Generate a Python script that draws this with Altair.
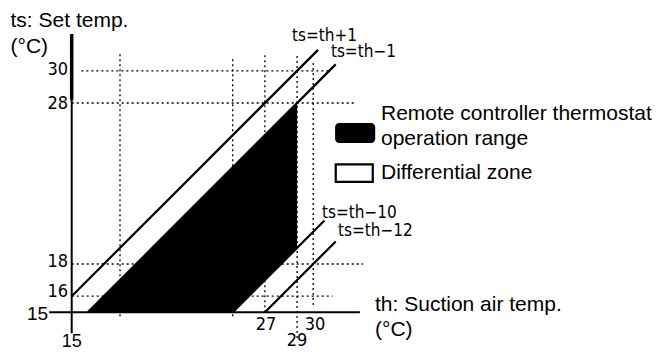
import altair as alt
import pandas as pd

# ---------------- data ----------------
line_labels = ["ts=th+1", "ts=th\u22121", "ts=th\u221210", "ts=th\u221212"]
line_offsets = [1, -1, -10, -12]
line_th_start = [15, 16, 25, 27]
line_th_end = [30.3, 31.4, 30.7, 31.4]

grid_h_ts = [30, 28, 18, 16]
grid_h_th_start = [15.6, 15, 15, 15]
grid_h_th_end = [31.1, 32.7, 33.1, 31.2]

grid_v_th = [18, 25, 27, 29, 30]
grid_v_ts_start = [14.75, 14.75, 15, 13.4, 15.45]
grid_v_ts_end = [31.1, 30.9, 31.1, 31.1, 30.5]

range_th = [16, 25, 29]
range_top = [15, 24, 28]
range_bottom = [15, 15, 19]

y_tick_values = [30, 28, 18, 16]
x_tick_values = [27, 30, 29]

# ---------------- layout ----------------
PX = 16.1
X0 = 15 - 63.7 / PX
Y0 = 15 - 31.7 / PX
W, H = 648, 336
xs = alt.Scale(domain=[X0, X0 + W / PX], nice=False, zero=False)
ys = alt.Scale(domain=[Y0, Y0 + H / PX], nice=False, zero=False)

def X(f="x"):
    return alt.X(f"{f}:Q", scale=xs, axis=None)

def Y(f="y"):
    return alt.Y(f"{f}:Q", scale=ys, axis=None)

DIGIT_FONT = "Liberation Sans Narrow, DejaVu Sans Condensed, sans-serif"
TEXT_FONT = "Liberation Sans, Arial, sans-serif"

# ---------------- tables ----------------
lines_df = pd.DataFrame({
    "label": line_labels,
    "x": line_th_start,
    "x2": line_th_end,
    "y": [a + o for a, o in zip(line_th_start, line_offsets)],
    "y2": [b + o for b, o in zip(line_th_end, line_offsets)],
})
gh_df = pd.DataFrame({"x": grid_h_th_start, "x2": grid_h_th_end, "y": grid_h_ts, "y2": grid_h_ts})
gv_df = pd.DataFrame({"x": grid_v_th, "x2": grid_v_th, "y": grid_v_ts_start, "y2": grid_v_ts_end})
grid_df = pd.concat([gh_df, gv_df], ignore_index=True)
area_df = pd.DataFrame({"x": range_th, "y": range_top, "y2": range_bottom})

axes_df = pd.DataFrame({
    "x": [13.6, 15, 15], "x2": [32.9, 15, 15],
    "y": [15, 13.7, 28.2], "y2": [15, 32.28, 32.28],
    "w": [2, 2, 3.5],
})

grid = alt.Chart(grid_df).mark_rule(
    color="black", strokeWidth=1.3, strokeDash=[2, 3], strokeCap="butt"
).encode(x=X(), x2="x2:Q", y=Y(), y2="y2:Q")

area = alt.Chart(area_df).mark_area(color="black", opacity=1).encode(
    x=X(), y=Y(), y2="y2:Q"
)

lines = alt.Chart(lines_df).mark_rule(color="black", strokeWidth=2.2).encode(
    x=X(), x2="x2:Q", y=Y(), y2="y2:Q"
)

axes = alt.Chart(axes_df).mark_rule(color="black").encode(
    x=X(), x2="x2:Q", y=Y(), y2="y2:Q",
    strokeWidth=alt.StrokeWidth("w:Q", scale=None, legend=None),
)

# tick labels
ytick_df = pd.DataFrame({"x": [14.77] * 4, "y": [30.08, 27.94, 18.11, 16.26],
                         "t": [str(v) for v in y_tick_values]})
ytl = alt.Chart(ytick_df).mark_text(
    align="right", baseline="middle", font=DIGIT_FONT, fontSize=18
).encode(x=X(), y=Y(), text="t:N")

xtick_df = pd.DataFrame({"x": [27.07, 30.11, 29.0], "y": [14.21, 14.21, 13.2],
                         "t": [str(v) for v in x_tick_values]})
xtl = alt.Chart(xtick_df).mark_text(
    align="center", baseline="middle", font=DIGIT_FONT, fontSize=18
).encode(x=X(), y=Y(), text="t:N")

f15_df = pd.DataFrame({"x": [13.53], "y": [14.9], "t": ["15"]})
f15 = alt.Chart(f15_df).mark_text(
    align="right", baseline="middle", font=TEXT_FONT, fontSize=19
).encode(x=X(), y=Y(), text="t:N")
f15b_df = pd.DataFrame({"x": [15.0], "y": [13.17], "t": ["15"]})
f15b = alt.Chart(f15b_df).mark_text(
    align="center", baseline="middle", font=TEXT_FONT, fontSize=18
).encode(x=X(), y=Y(), text="t:N")

# line labels
ll_df = pd.DataFrame({"x": [28.68, 31.1, 30.55, 31.54],
                      "y": [32.16, 31.17, 21.17, 20.05], "t": line_labels})
ll = alt.Chart(ll_df).mark_text(
    align="left", baseline="middle", font=DIGIT_FONT, fontSize=17
).encode(x=X(), y=Y(), text="t:N")

# titles / legend text
txt_df = pd.DataFrame({
    "x": [11.2, 11.2, 33.84, 33.84, 34.21, 34.21, 34.21],
    "y": [33.1, 31.48, 15.45, 13.9, 27.32, 25.76, 23.65],
    "t": ["ts: Set temp.", "(\u00b0C)", "th: Suction air temp.", "(\u00b0C)",
          "Remote controller thermostat", "operation range", "Differential zone"],
})
txt = alt.Chart(txt_df).mark_text(
    align="left", baseline="middle", font=TEXT_FONT, fontSize=21
).encode(x=X(), y=Y(), text="t:N")

# legend swatches
sw_df = pd.DataFrame({"x": [31.36], "x2": [33.85], "y": [26.76], "y2": [25.52]})
sw_black = alt.Chart(sw_df).mark_rect(color="black", cornerRadius=4).encode(
    x=X(), x2="x2:Q", y=Y(), y2="y2:Q"
)
sw2_df = pd.DataFrame({"x": [31.4], "x2": [33.7], "y": [24.19], "y2": [23.1]})
sw_white = alt.Chart(sw2_df).mark_rect(fill="white", stroke="black", strokeWidth=2.2).encode(
    x=X(), x2="x2:Q", y=Y(), y2="y2:Q"
)

chart = alt.layer(
    grid, area, lines, axes, ytl, xtl, f15, f15b, ll, txt, sw_black, sw_white
).properties(
    width=W, height=H, autosize=alt.AutoSizeParams(type="none"),
    padding={"left": 0, "top": 0, "right": 0, "bottom": 8},
    background="white",
).configure_view(stroke=None)

chart.save("out.html", embed_options={"renderer": "svg", "actions": False})
